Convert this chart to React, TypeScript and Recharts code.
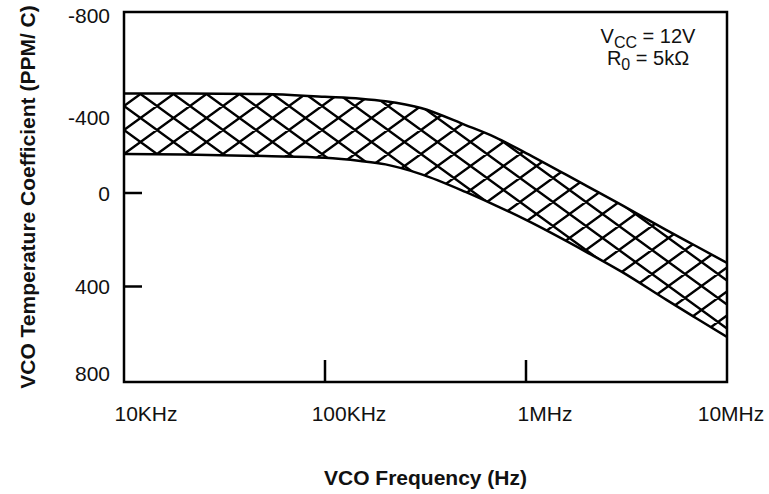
import { ComposedChart, Area, XAxis, YAxis, ReferenceArea } from "recharts";

const freqs = [1e4, 2e4, 5e4, 1e5, 1.5e5, 2e5, 3e5, 5e5, 7e5, 1e6, 2e6, 3e6, 5e6, 7e6, 1e7];
// edges of the tempco band, PPM/C (axis runs -800 at top to 800 at bottom)
const upperEdge = [-448, -448, -445, -433, -425, -414, -385, -311, -259, -190, -48, 35, 143, 212, 285];
const lowerEdge = [-186, -184, -177, -170, -156, -141, -99, -22, 35, 99, 238, 324, 445, 523, 605];

const xTicks = [1e4, 1e5, 1e6, 1e7];
const xTickLabels = ["10KHz", "100KHz", "1MHz", "10MHz"];
const yTicks = [-800, -400, 0, 400, 800];

const data = freqs.map((f, i) => ({ f, band: [upperEdge[i], lowerEdge[i]] }));

const FONT = '"Liberation Sans", Arial, Helvetica, sans-serif';
const X_LABEL_SHIFT = [22, 24, 19, 4];
const Y_LABEL_SHIFT = [3, 13, -4, -3, -9];
const Y_MARKS = [0, 400];

function XTick(props: any) {
  const { x, y, payload } = props;
  const i = xTicks.indexOf(payload.value);
  const inner = i > 0 && i < xTicks.length - 1;
  return (
    <g>
      {inner && <line x1={x} x2={x} y1={y} y2={y - 22} stroke="#000" strokeWidth={2.5} />}
      <text x={x + X_LABEL_SHIFT[i]} y={y + 39} textAnchor="middle" fontSize={21} fontFamily={FONT} fill="#111">
        {xTickLabels[i]}
      </text>
    </g>
  );
}

function YTick(props: any) {
  const { x, y, payload } = props;
  const i = yTicks.indexOf(payload.value);
  const yy = y + Y_LABEL_SHIFT[i];
  return (
    <g>
      {Y_MARKS.includes(payload.value) && (
        <line x1={x} x2={x + 18} y1={yy} y2={yy} stroke="#000" strokeWidth={2.5} />
      )}
      <text x={x - 14} y={yy + 7.5} textAnchor="end" fontSize={21} fontFamily={FONT} fill="#111">
        {payload.value}
      </text>
    </g>
  );
}

export default function App() {
  return (
    <div style={{ position: "absolute", left: 0, top: 0, width: 769, height: 494, background: "#fff" }}>
      <ComposedChart width={769} height={494} data={data} margin={{ top: 12, right: 42, bottom: 0, left: 0 }}>
        <defs>
          <pattern id="hatch" patternUnits="userSpaceOnUse" width={33} height={24} x={124} y={82}>
            <path
              d="M-10,-31.3 L43,7.3 M-10,-7.27 L43,31.27 M-10,16.7 L43,55.3 M-10,7.27 L43,-31.3 M-10,31.27 L43,-7.27 M-10,55.3 L43,16.7"
              stroke="#000"
              strokeWidth={2.4}
              fill="none"
            />
          </pattern>
        </defs>
        <XAxis
          dataKey="f"
          type="number"
          scale="log"
          domain={[1e4, 1e7]}
          ticks={xTicks}
          interval={0}
          allowDataOverflow
          axisLine={false}
          tickLine={false}
          tickSize={0}
          tickMargin={0}
          height={112}
          tick={<XTick />}
          label={{
            value: "VCO Frequency (Hz)",
            position: "insideBottom",
            offset: 9,
            fill: "#111",
            fontSize: 21,
            fontWeight: "bold",
            fontFamily: FONT,
          }}
        />
        <YAxis
          type="number"
          reversed
          domain={[-800, 800]}
          ticks={yTicks}
          interval={0}
          allowDataOverflow
          axisLine={false}
          tickLine={false}
          tickSize={0}
          tickMargin={0}
          width={124}
          tick={<YTick />}
          label={{
            value: "VCO Temperature Coefficient (PPM/ C)",
            angle: -90,
            position: "insideLeft",
            offset: 28,
            fill: "#111",
            fontSize: 21,
            fontWeight: "bold",
            fontFamily: FONT,
            style: { textAnchor: "middle" },
          }}
        />
        <Area
          type="monotone"
          dataKey="band"
          fill="url(#hatch)"
          fillOpacity={1}
          stroke="#000"
          strokeWidth={2.5}
          dot={false}
          activeDot={false}
          isAnimationActive={false}
        />
        <ReferenceArea
          x1={1e4}
          x2={1e7}
          y1={-800}
          y2={800}
          fill="none"
          fillOpacity={0}
          stroke="#000"
          strokeWidth={2.5}
          ifOverflow="visible"
        />
      </ComposedChart>
      <div
        style={{
          position: "absolute",
          left: 560,
          width: 176,
          top: 26,
          textAlign: "center",
          fontFamily: FONT,
          fontSize: 20,
          lineHeight: "20px",
          color: "#111",
        }}
      >
        <div>
          V<span style={{ fontSize: "0.8em", position: "relative", top: "0.3em" }}>CC</span> = 12V
        </div>
        <div>
          R<span style={{ fontSize: "0.8em", position: "relative", top: "0.3em" }}>0</span> = 5kΩ
        </div>
      </div>
    </div>
  );
}
